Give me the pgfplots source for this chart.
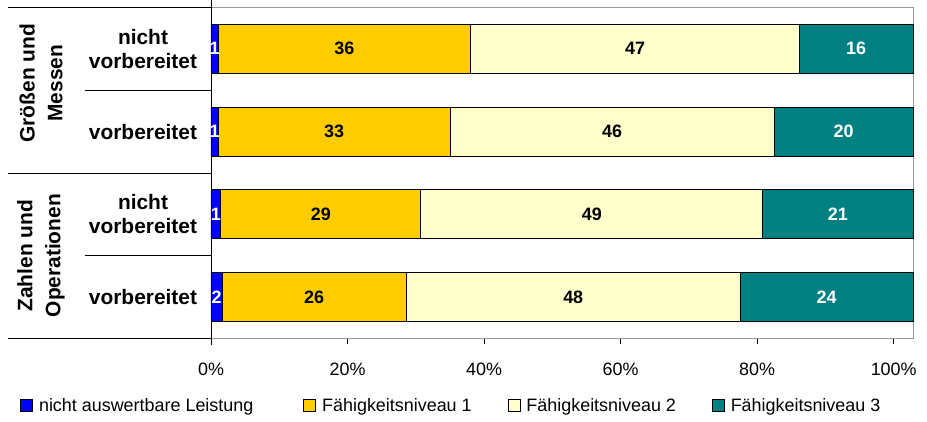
\documentclass[border=0pt]{standalone}
\usepackage{pgfplots}
\pgfplotsset{compat=1.18}
\usepackage{fontspec}
\setmainfont{Liberation Sans}
\definecolor{nblue}{RGB}{0,0,255}
\definecolor{ngold}{RGB}{255,204,0}
\definecolor{nyellow}{RGB}{255,255,204}
\definecolor{nteal}{RGB}{0,128,128}
\begin{document}
\begin{tikzpicture}
\begin{axis}[
  name=ax,
  xbar stacked,
  scale only axis,
  width=702bp, height=331bp,
  xmin=0, xmax=100,
  ymin=-0.5, ymax=3.5,
  y dir=reverse,
  bar width=49bp,
  axis line style={draw=black!40, line width=0.8bp},
  xtick={0,19.45,38.9,58.35,77.8,97.25},
  xticklabels={0\%,20\%,40\%,60\%,80\%,100\%},
  xtick pos=bottom,
  tick align=outside,
  major tick length=6bp,
  xtick style={black, line width=0.8bp},
  ytick={0,1,2,3},
  yticklabels={nicht\\vorbereitet, vorbereitet, nicht\\vorbereitet, vorbereitet},
  ytick style={draw=none},
  yticklabel style={anchor=center, xshift=-62bp, align=center, font=\fontsize{21}{24}\selectfont\bfseries},
  xticklabel style={font=\fontsize{18}{22}\selectfont, yshift=-15bp},
  clip=false,
  point meta=explicit symbolic,
  nodes near coords,
  every node near coord/.append style={anchor=center, font=\fontsize{18}{22}\selectfont\bfseries},
  legend columns=4,
  legend style={
    draw=none, fill=none,
    at={(-0.272,-0.2024)}, anchor=west,
    inner sep=0pt,
    font=\fontsize{18}{22}\selectfont,
    /tikz/every even column/.append style={column sep=34bp},
  },
  legend cell align=left,
  legend image code/.code={\draw[#1,draw=black,line width=0.8bp] (0bp,-6bp) rectangle (12bp,6bp);},
]
\addplot[fill=nblue, draw=black, line width=0.8bp, every node near coord/.append style={text=white}]
  coordinates {(1.0,0) [1] (1.0,1) [1] (1.4,2) [1] (1.6,3) [2]};
\addplot[fill=ngold, draw=black, line width=0.8bp, every node near coord/.append style={text=black}]
  coordinates {(36.0,0) [36] (33.1,1) [33] (28.5,2) [29] (26.2,3) [26]};
\addplot[fill=nyellow, draw=black, line width=0.8bp, every node near coord/.append style={text=black}]
  coordinates {(46.8,0) [47] (46.1,1) [46] (48.7,2) [49] (47.6,3) [48]};
\addplot[fill=nteal, draw=black, line width=0.8bp, every node near coord/.append style={text=white}]
  coordinates {(16.2,0) [16] (19.8,1) [20] (21.4,2) [21] (24.6,3) [24]};
\legend{\hspace*{4bp}nicht auswertbare Leistung\hspace*{14bp}, \hspace*{4bp}Fähigkeitsniveau 1, \hspace*{4bp}Fähigkeitsniveau 2, \hspace*{4bp}Fähigkeitsniveau 3}
% left axis line and category dividers
\draw[black, line width=0.8bp] ([yshift=7bp]axis cs:0,-0.5) -- ([yshift=-7bp]axis cs:0,3.5);
\draw[black, line width=0.8bp] ([xshift=-203bp]axis cs:0,-0.5) -- (axis cs:0,-0.5);
\draw[black, line width=0.8bp] ([xshift=-126bp]axis cs:0,0.5) -- (axis cs:0,0.5);
\draw[black, line width=0.8bp] ([xshift=-203bp]axis cs:0,1.5) -- (axis cs:0,1.5);
\draw[black, line width=0.8bp] ([xshift=-126bp]axis cs:0,2.5) -- (axis cs:0,2.5);
\draw[black, line width=0.8bp] ([xshift=-203bp]axis cs:0,3.5) -- (axis cs:0,3.5);
\node[rotate=90, align=center, font=\fontsize{21}{28}\selectfont\bfseries] at ([xshift=-170bp,yshift=7bp]axis cs:0,0.5) {Größen und\\Messen};
\node[rotate=90, align=center, font=\fontsize{21}{28}\selectfont\bfseries] at ([xshift=-170bp]axis cs:0,2.5) {Zahlen und\\Operationen};
\end{axis}
\path ([xshift=-211bp,yshift=-83bp]ax.south west) rectangle ([xshift=14bp,yshift=7bp]ax.north east);
\end{tikzpicture}
\end{document}
